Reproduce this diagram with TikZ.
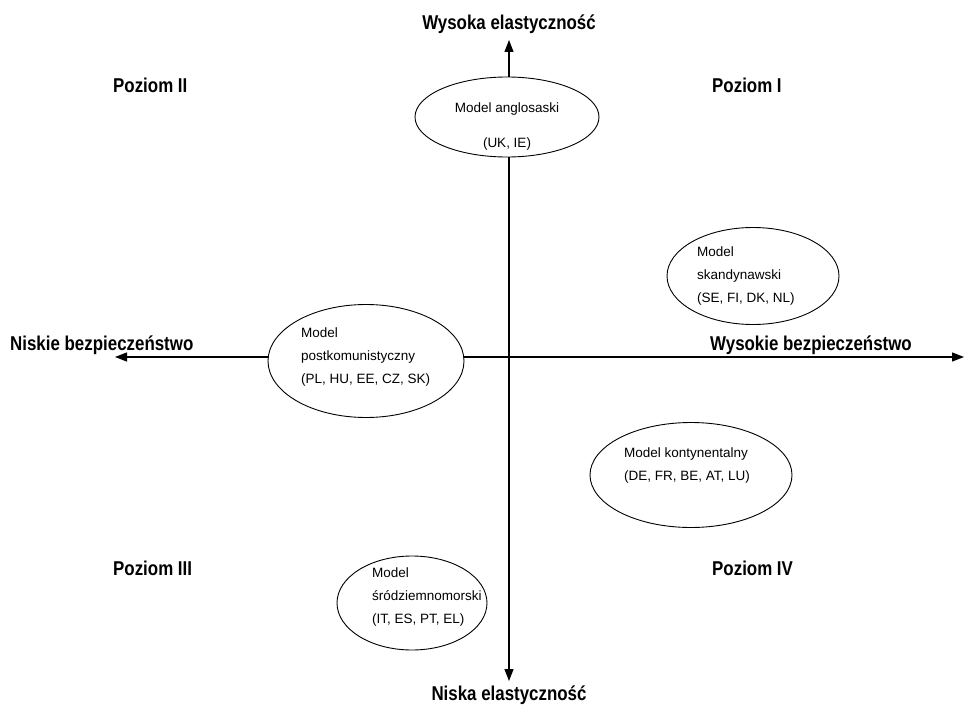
\documentclass[tikz,border=0pt]{standalone}
\usepackage{fontspec}
\setmainfont{Liberation Sans}
\newfontfamily\headfont[FakeStretch=0.845]{Liberation Sans Bold}
\usepackage{tikz}
\usetikzlibrary{arrows.meta}
\usetikzlibrary{shapes.geometric}

\tikzset{
  axis/.style={line width=1.3pt, -{Triangle[length=12pt,width=9pt]}},
  model/.style={draw, ellipse, fill=white, line width=0.9pt, inner sep=0pt},
  modeltxt/.style={font=\fontsize{13.5}{23}\selectfont, align=left, inner sep=0pt},
  headtxt/.style={font=\headfont\fontsize{20}{24}\selectfont, inner sep=0pt}
}

\begin{document}
\begin{tikzpicture}[x=1pt,y=-1pt]
    \useasboundingbox (0,0) rectangle (964,706);
    % --- AXES ---
    \coordinate (orig) at (509,357);
    \coordinate (up) at (509,40);
    \coordinate (down) at (509,681);
    \coordinate (left) at (115,357);
    \coordinate (right) at (964,357);
    \draw[axis] (orig) -- (up);
    \draw[axis] (orig) -- (down);
    \draw[axis] (orig) -- (left);
    \draw[axis] (orig) -- (right);

    % --- MODELS ---
    \node[model, minimum width=184pt, minimum height=80pt] (angl) at (507,117) {};
    \node[model, minimum width=196pt, minimum height=113pt] (post) at (366,361) {};
    \node[model, minimum width=172pt, minimum height=97pt] (skan) at (753,276) {};
    \node[model, minimum width=202pt, minimum height=105pt] (kont) at (691,475) {};
    \node[model, minimum width=150pt, minimum height=94pt] (srod) at (412,603) {};

    % text: base anchor = baseline of the last line
    \node[modeltxt, anchor=base] (angl-a) at (507,113) {Model anglosaski};
    \node[modeltxt, anchor=base] (angl-b) at (507,148) {(UK, IE)};
    \node[modeltxt, anchor=base west] (post-t) at (301,383) {Model\\postkomunistyczny\\(PL, HU, EE, CZ, SK)};
    \node[modeltxt, anchor=base west] (skan-t) at (697,302) {Model\\skandynawski\\(SE, FI, DK, NL)};
    \node[modeltxt, anchor=base] (kont-t) at (687,480) {Model kontynentalny\\(DE, FR, BE, AT, LU)};
    \node[modeltxt, anchor=base west] (srod-t) at (372,623) {Model\\śródziemnomorski\\(IT, ES, PT, EL)};

    % --- LABELS ---
    \node[headtxt, anchor=base] (wys-el) at (509,30) {Wysoka elastyczność};
    \node[headtxt, anchor=base] (nis-el) at (509,700) {Niska elastyczność};
    \node[headtxt, anchor=base west] (nis-bz) at (10,350) {Niskie bezpieczeństwo};
    \node[headtxt, anchor=base west] (wys-bz) at (710,350) {Wysokie bezpieczeństwo};
    \node[headtxt, anchor=base west] (poz1) at (712,93) {Poziom I};
    \node[headtxt, anchor=base west] (poz2) at (113,93) {Poziom II};
    \node[headtxt, anchor=base west] (poz3) at (113,575) {Poziom III};
    \node[headtxt, anchor=base west] (poz4) at (712,575) {Poziom IV};
\end{tikzpicture}
\end{document}
